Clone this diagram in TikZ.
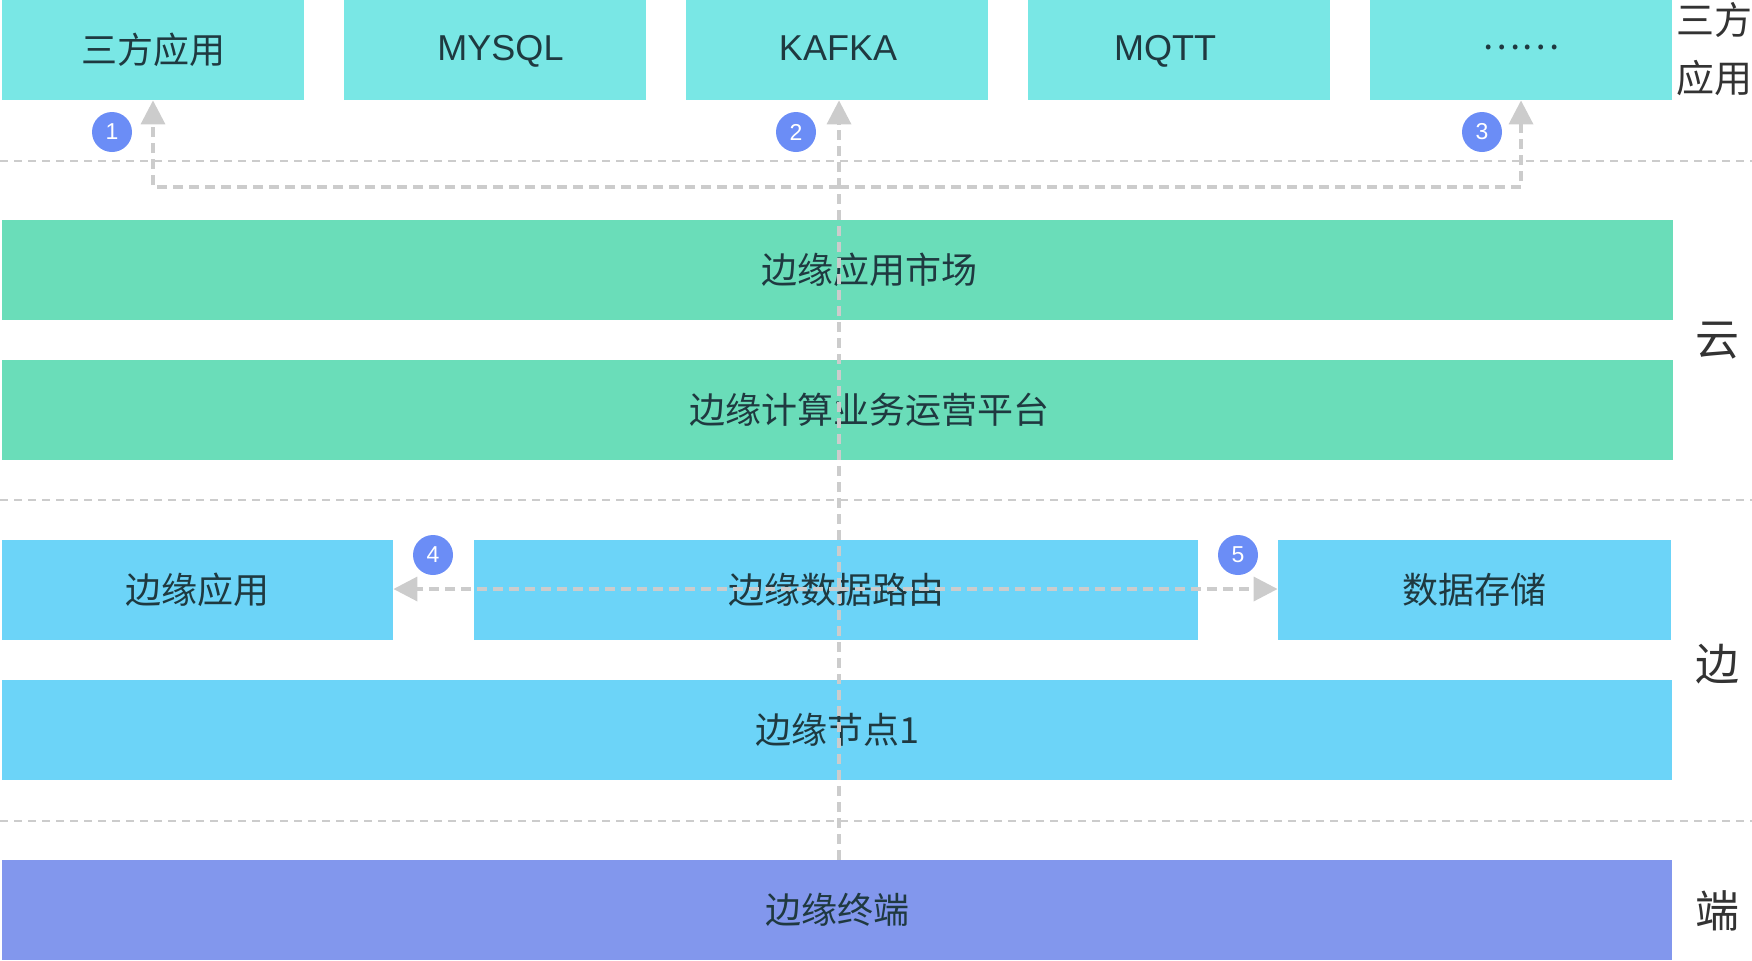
\documentclass[tikz,border=0pt]{standalone}
\usepackage{fontspec}
\setmainfont{Liberation Sans}
\newfontfamily\cjk{Noto Sans CJK SC}
\usetikzlibrary{arrows.meta}
\definecolor{topc}{HTML}{79E7E5}
\definecolor{cloudc}{HTML}{6ADDB9}
\definecolor{edgec}{HTML}{6CD4F8}
\definecolor{termc}{HTML}{8297ED}
\definecolor{badgec}{HTML}{6B8DF6}
\definecolor{dashc}{HTML}{CCCCCC}
\definecolor{txtc}{HTML}{1F3940}
\definecolor{labc}{HTML}{333333}
\begin{document}
\begin{tikzpicture}[x=0.5pt,y=-0.5pt,
  box/.style={fill=#1, draw=none, inner sep=0pt, text=txtc, minimum height=50pt,
    font=\cjk\fontsize{18}{20}\selectfont},
  boxtxt/.style={inner sep=0pt, text=txtc, font=\cjk\fontsize{18}{20}\selectfont},
  lattxt/.style={inner sep=0pt, text=txtc, text height=13pt, text depth=3pt,
    font=\rmfamily\fontsize{18}{20}\selectfont},
  topbox/.style={box=topc, minimum width=151pt},
  sep/.style={draw=dashc, line width=0.8pt, dash pattern=on 4pt off 3pt},
  flow/.style={draw=dashc, line width=1.8pt, dash pattern=on 5pt off 3pt,
    -{Triangle[width=12pt,length=12pt,fill=dashc]}},
  badge/.style={circle, fill=badgec, inner sep=0pt, minimum size=20pt, text=white,
    font=\fontsize{11.5}{12}\selectfont},
  side/.style={text=labc, inner sep=0pt}]
\useasboundingbox (0,0) rectangle (1752,960);
% separators
\draw[sep] (0,161) -- (1752,161);
\draw[sep] (0,500) -- (1752,500);
\draw[sep] (0,821) -- (1752,821);
% top row
\node[topbox] (app3) at (153,50) {三方应用};
\node[topbox, label={[lattxt, xshift=2.75pt]center:MYSQL}] (mysql) at (495,50) {};
\node[topbox, label={[lattxt, xshift=0.5pt]center:KAFKA}] (kafka) at (837,50) {};
\node[topbox, label={[lattxt, xshift=-7pt]center:MQTT}] (mqtt) at (1179,50) {};
\node[topbox, label={[boxtxt, yshift=1.5pt]center:……}] (etc) at (1521,50) {};
% cloud
\node[box=cloudc, minimum width=835.5pt, label={[boxtxt, xshift=15.75pt]center:边缘应用市场}] (market) at (837.5,270) {};
\node[box=cloudc, minimum width=835.5pt, label={[boxtxt, xshift=15.75pt]center:边缘计算业务运营平台}] (ops) at (837.5,410) {};
% edge
\node[box=edgec, minimum width=195.5pt] (eapp) at (197.5,590) {边缘应用};
\node[box=edgec, minimum width=362pt] (route) at (836,590) {边缘数据路由};
\node[box=edgec, minimum width=196.5pt] (store) at (1474.5,590) {数据存储};
\node[box=edgec, minimum width=835pt] (node1) at (837,730) {边缘节点1};
% terminal
\node[box=termc, minimum width=835pt] (term) at (837,910) {边缘终端};
% side labels
\node[side, anchor=west, align=left, font=\cjk\fontsize{19}{29}\selectfont] (l3) at (1676,49) {三方\\应用};
\node[side, font=\cjk\fontsize{22}{24}\selectfont] (lc) at (1717,341) {云};
\node[side, font=\cjk\fontsize{22}{24}\selectfont] (le) at (1717,664) {边};
\node[side, font=\cjk\fontsize{22}{24}\selectfont] (lt) at (1717,911) {端};
% connectors
\coordinate (k) at (839,0);
\coordinate (j) at (839,187);
\coordinate (r) at (839,589);
\draw[flow] (term.north -| k) -- (kafka.south -| k);
\draw[flow] (j) -| (app3.south);
\draw[flow] (j) -| (etc.south);
\draw[flow] (r) -- (eapp.east |- r);
\draw[flow] (r) -- (store.west |- r);
% badges
\node[badge] (b1) at (112,132) {1};
\node[badge] (b2) at (796,132) {2};
\node[badge] (b3) at (1482,132) {3};
\node[badge] (b4) at (433,555) {4};
\node[badge] (b5) at (1238,555) {5};
\end{tikzpicture}
\end{document}
